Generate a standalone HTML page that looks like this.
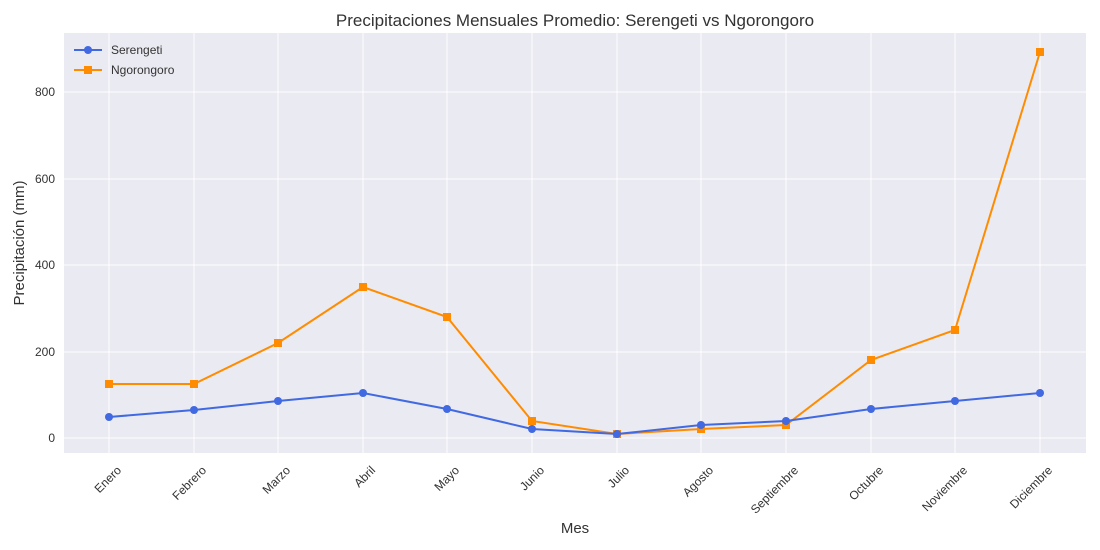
<!DOCTYPE html>
<html><head><meta charset="utf-8"><style>body{margin:0;background:#fff}svg{display:block;font-family:"Liberation Sans","DejaVu Sans",sans-serif}</style></head>
<body>
<svg width="1100" height="550" viewBox="0 0 1100 550">
<rect x="64" y="33" width="1022" height="420" fill="#eaeaf2"/>
<g stroke="#fff" stroke-width="1">
<line x1="64" x2="1086" y1="438" y2="438"/><line x1="64" x2="1086" y1="352" y2="352"/><line x1="64" x2="1086" y1="265" y2="265"/><line x1="64" x2="1086" y1="179" y2="179"/><line x1="64" x2="1086" y1="92" y2="92"/>
<line x1="109" x2="109" y1="33" y2="453"/><line x1="194" x2="194" y1="33" y2="453"/><line x1="278" x2="278" y1="33" y2="453"/><line x1="363" x2="363" y1="33" y2="453"/><line x1="447" x2="447" y1="33" y2="453"/><line x1="532" x2="532" y1="33" y2="453"/><line x1="617" x2="617" y1="33" y2="453"/><line x1="701" x2="701" y1="33" y2="453"/><line x1="786" x2="786" y1="33" y2="453"/><line x1="871" x2="871" y1="33" y2="453"/><line x1="955" x2="955" y1="33" y2="453"/><line x1="1040" x2="1040" y1="33" y2="453"/>
</g>
<g font-size="12" fill="#333" text-anchor="end">
<text x="55" y="442">0</text><text x="55" y="356">200</text><text x="55" y="269">400</text><text x="55" y="183">600</text><text x="55" y="96">800</text>
</g>
<g font-size="12" fill="#333" text-anchor="end">
<text transform="translate(122,471) rotate(-45)">Enero</text>
<text transform="translate(207,471) rotate(-45)">Febrero</text>
<text transform="translate(291,471) rotate(-45)">Marzo</text>
<text transform="translate(376,471) rotate(-45)">Abril</text>
<text transform="translate(460,471) rotate(-45)">Mayo</text>
<text transform="translate(545,471) rotate(-45)">Junio</text>
<text transform="translate(630,471) rotate(-45)">Julio</text>
<text transform="translate(714,471) rotate(-45)">Agosto</text>
<text transform="translate(799,471) rotate(-45)">Septiembre</text>
<text transform="translate(884,471) rotate(-45)">Octubre</text>
<text transform="translate(968,471) rotate(-45)">Noviembre</text>
<text transform="translate(1053,471) rotate(-45)">Diciembre</text>
</g>
<text x="575" y="533" font-size="15" fill="#333" text-anchor="middle">Mes</text>
<text transform="translate(24,243) rotate(-90)" font-size="15" fill="#333" text-anchor="middle">Precipitación (mm)</text>
<text x="575" y="26" font-size="17" fill="#333" text-anchor="middle">Precipitaciones Mensuales Promedio: Serengeti vs Ngorongoro</text>
<g fill="#ff8c00"><polyline fill="none" stroke="#ff8c00" stroke-width="2" points="109,384 194,384 278,343 363,287 447,317 532,421 617,434 701,429 786,425 871,360 955,330 1040,52"/>
<rect x="105" y="380" width="8" height="8"/><rect x="190" y="380" width="8" height="8"/><rect x="274" y="339" width="8" height="8"/><rect x="359" y="283" width="8" height="8"/><rect x="443" y="313" width="8" height="8"/><rect x="528" y="417" width="8" height="8"/><rect x="613" y="430" width="8" height="8"/><rect x="697" y="425" width="8" height="8"/><rect x="782" y="421" width="8" height="8"/><rect x="867" y="356" width="8" height="8"/><rect x="951" y="326" width="8" height="8"/><rect x="1036" y="48" width="8" height="8"/></g>
<g fill="#4169e1"><polyline fill="none" stroke="#4169e1" stroke-width="2" points="109,417 194,410 278,401 363,393 447,409 532,429 617,434 701,425 786,421 871,409 955,401 1040,393"/>
<circle cx="109" cy="417" r="4"/><circle cx="194" cy="410" r="4"/><circle cx="278" cy="401" r="4"/><circle cx="363" cy="393" r="4"/><circle cx="447" cy="409" r="4"/><circle cx="532" cy="429" r="4"/><circle cx="617" cy="434" r="4"/><circle cx="701" cy="425" r="4"/><circle cx="786" cy="421" r="4"/><circle cx="871" cy="409" r="4"/><circle cx="955" cy="401" r="4"/><circle cx="1040" cy="393" r="4"/></g>
<line x1="74" x2="102" y1="50" y2="50" stroke="#4169e1" stroke-width="2"/><circle cx="88" cy="50" r="4" fill="#4169e1"/>
<text x="111" y="54" font-size="12" fill="#333">Serengeti</text>
<line x1="74" x2="102" y1="70" y2="70" stroke="#ff8c00" stroke-width="2"/><rect x="84" y="66" width="8" height="8" fill="#ff8c00"/>
<text x="111" y="74" font-size="12" fill="#333">Ngorongoro</text>
</svg>
</body></html>
